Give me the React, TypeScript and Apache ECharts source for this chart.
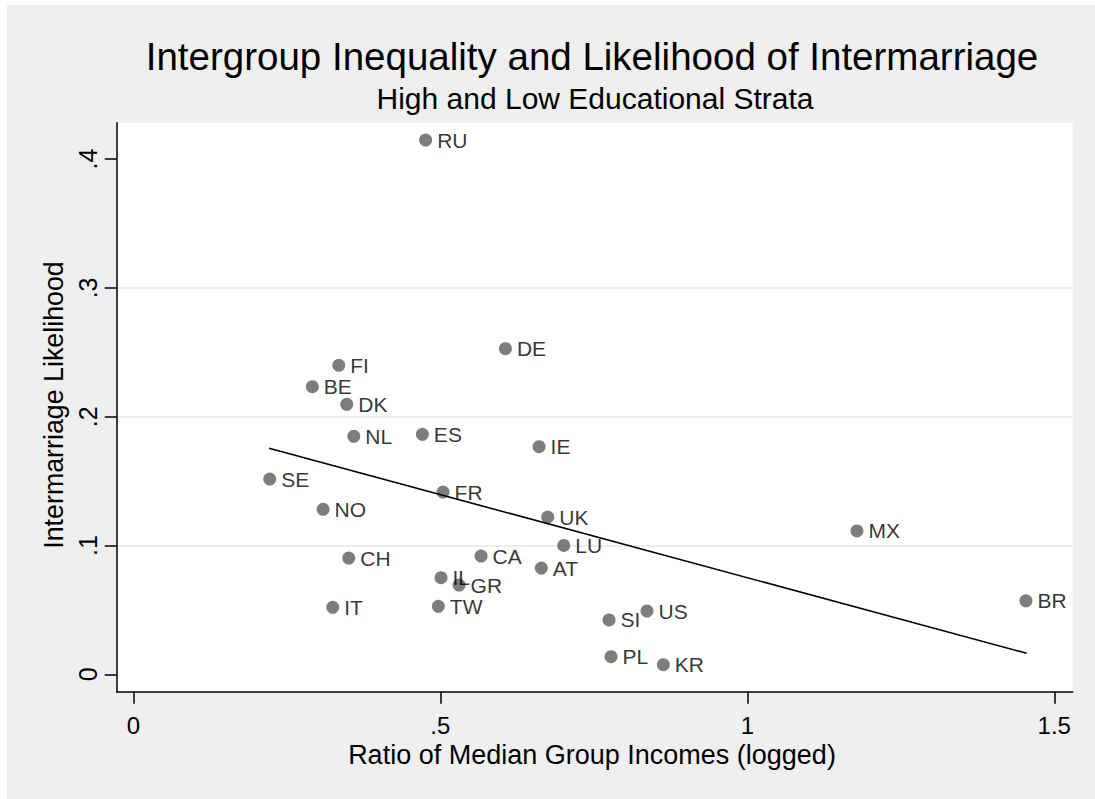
import { useEffect, useRef } from 'react';
import * as echarts from 'echarts';

const countries = ['RU', 'DE', 'FI', 'BE', 'DK', 'NL', 'ES', 'IE', 'SE', 'FR', 'NO', 'UK', 'LU', 'CH', 'CA', 'AT', 'IL', 'GR', 'TW', 'IT', 'MX', 'BR', 'SI', 'US', 'PL', 'KR'];
const ratioLogged = [0.476, 0.606, 0.3345, 0.2915, 0.3475, 0.359, 0.4707, 0.6608, 0.2221, 0.5044, 0.309, 0.6749, 0.701, 0.3508, 0.5663, 0.6645, 0.5011, 0.5305, 0.4967, 0.3247, 1.1786, 1.4539, 0.7748, 0.8366, 0.778, 0.8632];
const likelihood = [0.4148, 0.2528, 0.2399, 0.2233, 0.2096, 0.1848, 0.1863, 0.1767, 0.1516, 0.1415, 0.1281, 0.1221, 0.1001, 0.0903, 0.0918, 0.0825, 0.075, 0.0693, 0.0528, 0.052, 0.1113, 0.0571, 0.0422, 0.0491, 0.0137, 0.0075];
const fitX = [0.221, 1.455];
const fitY = [0.1755, 0.0163];
const xTicks = [0, 0.5, 1, 1.5];
const yTicks = [0, 0.1, 0.2, 0.3, 0.4];

const titleText = 'Intergroup Inequality and Likelihood of Intermarriage';
const subtitleText = 'High and Low Educational Strata';
const xTitle = 'Ratio of Median Group Incomes (logged)';
const yTitle = 'Intermarriage Likelihood';

const FONT = '"Liberation Sans", Arial, Helvetica, sans-serif';

const fmt = (v: number) => {
  if (v === 0) return '0';
  const s = String(Math.round(v * 1000) / 1000);
  return s.replace(/^0\./, '.');
};

export default function App() {
  const ref = useRef<HTMLDivElement>(null);
  useEffect(() => {
    if (!ref.current) return;
    const chart = echarts.init(ref.current, undefined, { renderer: 'svg' });
    const points = countries.map((c, i) => ({ name: c, value: [ratioLogged[i], likelihood[i]] }));
    const fit = fitX.map((x, i) => [x, fitY[i]]);
    chart.setOption({
      animation: false,
      backgroundColor: 'transparent',
      textStyle: { fontFamily: FONT },
      grid: {
        left: 116.7,
        right: 22.3,
        top: 122.7,
        bottom: 107.3,
        show: true,
        backgroundColor: '#ffffff',
        borderWidth: 0,
      },
      xAxis: {
        type: 'value',
        min: -0.0272,
        max: 1.53,
        axisLine: { show: true, onZero: false, lineStyle: { color: '#000', width: 1.5 } },
        axisTick: { show: true, customValues: xTicks, length: 12, lineStyle: { color: '#000', width: 1.5 } },
        axisLabel: { customValues: xTicks, formatter: fmt, margin: 23, fontSize: 24, lineHeight: 21, color: '#000', fontFamily: FONT },
        splitLine: { show: false },
      },
      yAxis: {
        type: 'value',
        min: -0.0135,
        max: 0.4283,
        axisLine: { show: true, onZero: false, lineStyle: { color: '#000', width: 1.5 } },
        axisTick: { show: true, customValues: yTicks, length: 12, lineStyle: { color: '#000', width: 1.5 } },
        axisLabel: { customValues: yTicks, formatter: fmt, margin: 16, rotate: 90, fontSize: 25, color: '#000', fontFamily: FONT },
        splitLine: { show: true, showMinLine: false, showMaxLine: false, lineStyle: { color: '#e6e6e6', width: 1.5 } },
      },
      graphic: [
        { type: 'text', x: 592, y: 56, style: { text: titleText, font: `38.5px ${FONT}`, fill: '#000', align: 'center', verticalAlign: 'middle' } },
        { type: 'text', x: 595, y: 98, style: { text: subtitleText, font: `30px ${FONT}`, fill: '#000', align: 'center', verticalAlign: 'middle', lineHeight: 26 } },
        { type: 'text', x: 592, y: 754.5, style: { text: xTitle, font: `27px ${FONT}`, fill: '#000', align: 'center', verticalAlign: 'middle', lineHeight: 22 } },
        { type: 'text', x: 54.3, y: 405, rotation: Math.PI / 2, style: { text: yTitle, font: `26.8px ${FONT}`, fill: '#000', align: 'center', verticalAlign: 'middle' } },
      ],
      series: [
        {
          type: 'scatter',
          data: points,
          symbol: 'circle',
          symbolSize: 13,
          itemStyle: { color: '#5c5c5c' },
          label: {
            show: true,
            position: 'right',
            distance: 5,
            formatter: (p: any) => p.name,
            fontSize: 21,
            color: '#000',
            fontFamily: FONT,
          },
          z: 2,
        },
        {
          type: 'line',
          data: fit,
          symbol: 'none',
          lineStyle: { color: '#000', width: 1.6 },
          z: 3,
        },
      ],
    });
    return () => chart.dispose();
  }, []);
  return (
    <div style={{ position: 'fixed', left: 0, top: 0, width: 1095, height: 799, background: '#ffffff' }}>
      <div style={{ position: 'absolute', left: 7, top: 5, right: 0, bottom: 0, background: '#efefef' }} />
      <div ref={ref} style={{ position: 'absolute', left: 0, top: 0, width: 1095, height: 799 }} />
    </div>
  );
}
